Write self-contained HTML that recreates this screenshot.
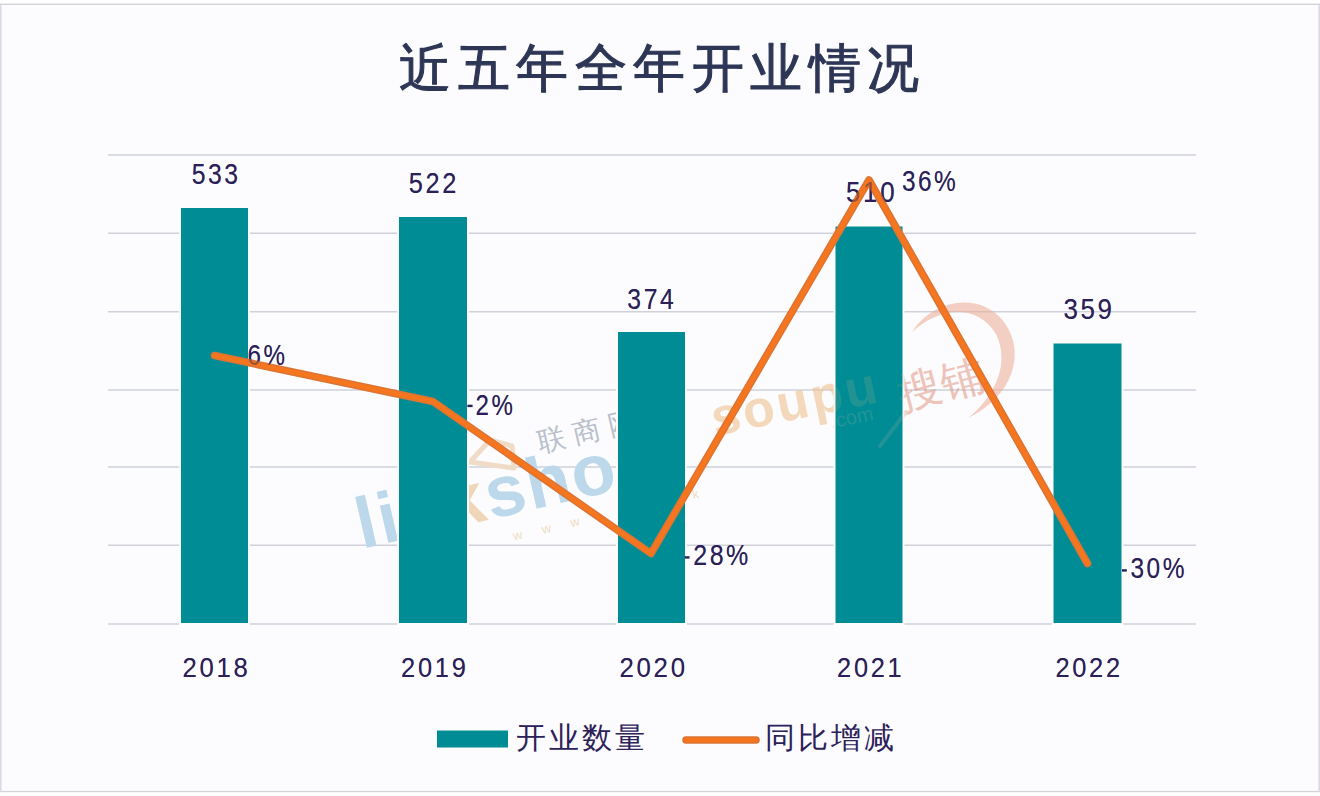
<!DOCTYPE html>
<html><head><meta charset="utf-8">
<style>
html,body{margin:0;padding:0;background:#fff;}
body{width:1320px;height:796px;overflow:hidden;position:relative;font-family:"Liberation Sans",sans-serif;}
svg{position:absolute;left:0;top:0;}
</style></head>
<body>
<svg width="1320" height="796" viewBox="0 0 1320 796">
  <rect x="0" y="0" width="1320" height="796" fill="#ffffff"/>
  <rect x="0" y="4" width="1320" height="788" fill="#fcfcfe"/>
  <rect x="0" y="3.6" width="1320" height="1.3" fill="#cfd0d5"/>
  <rect x="0" y="790.9" width="1320" height="1.3" fill="#d2d4d8"/>
  <rect x="0" y="3.6" width="1.6" height="788.6" fill="#dcd9e4"/>
  <rect x="1318.4" y="3.6" width="1.6" height="788.6" fill="#e0d6e6"/>

  <text x="399.3" y="86" font-family="Liberation Sans, sans-serif" font-size="52" fill="#2e3656" stroke="#2e3656" stroke-width="1.1" stroke-linejoin="round" letter-spacing="6.5">近五年全年开业情况</text>

  <g stroke="#cfd2da" stroke-width="1.5">
    <line x1="108" y1="155" x2="1196" y2="155"/>
    <line x1="108" y1="233.3" x2="1196" y2="233.3"/>
    <line x1="108" y1="311.7" x2="1196" y2="311.7"/>
    <line x1="108" y1="390" x2="1196" y2="390"/>
    <line x1="108" y1="467" x2="1196" y2="467"/>
    <line x1="108" y1="545.3" x2="1196" y2="545.3"/>
    <line x1="108" y1="624" x2="1196" y2="624"/>
  </g>

  <!-- watermark linkshop -->
  <g>
    <g transform="translate(362,549) rotate(-13)">
      <text x="0" y="0" font-family="Liberation Sans, sans-serif" font-size="72" font-weight="bold" fill="#bcd8ea" letter-spacing="2">lin<tspan fill="#f0d6b8">k</tspan>shop</text>
      <text x="150" y="26" font-family="Liberation Sans, sans-serif" font-size="13" fill="#efdcc4" letter-spacing="20">www.link</text>
    </g>
    <g transform="translate(540,452) rotate(-13)">
      <text x="0" y="0" font-family="Liberation Sans, sans-serif" font-size="28" fill="#b9c0cc" letter-spacing="8">联商网</text>
    </g>
    <path d="M470,462 L490,440 L512,446 L514,468 Z" fill="none" stroke="#f0dcc6" stroke-width="5" stroke-linejoin="round"/>
  </g>


  <!-- watermark soupu (under bars) -->
  <g opacity="0.5">
    <g transform="translate(715,436) rotate(-11.6)">
      <text x="0" y="0" font-family="Liberation Sans, sans-serif" font-size="52" font-weight="bold" fill="#efc08c" letter-spacing="3">soupu</text>
      <text x="116" y="16" font-family="Liberation Sans, sans-serif" font-size="20" fill="#efc498">.com</text>
    </g>
    <g transform="translate(902,410) rotate(-15)">
      <text x="0" y="0" font-family="Liberation Sans, sans-serif" font-size="44" fill="#e49a8a">搜铺</text>
    </g>
    <path d="M912,332 C932,300 980,290 1004,322 C1026,352 1014,396 968,418 C996,396 1010,362 996,334 C978,304 940,306 912,332 Z" fill="#eeb09a"/>
    <path d="M906,412 L880,446" stroke="#eeb8a4" stroke-width="4" stroke-linecap="round"/>
  </g>

  <!-- bar outlines -->
  <g fill="#fcfcfe">
    <rect x="179" y="206" width="71" height="419"/>
    <rect x="397" y="215" width="72" height="410"/>
    <rect x="616" y="330" width="71" height="295"/>
    <rect x="833.5" y="224.5" width="71" height="400.5"/>
    <rect x="1051.5" y="341.5" width="72" height="283.5"/>
  </g>
  <g fill="#008c95">
    <rect x="181" y="208" width="67" height="415"/>
    <rect x="399" y="217" width="68" height="406"/>
    <rect x="618" y="332" width="67" height="291"/>
    <rect x="835.5" y="226.5" width="67" height="396.5"/>
    <rect x="1053.5" y="343.5" width="68" height="279.5"/>
  </g>

  <g><rect x="467.4" y="404.7" width="5.2" height="2.4" fill="#2c2158"/><rect x="684.7" y="556.2" width="4.8" height="2.4" fill="#2c2158"/><rect x="1122.0" y="569.2" width="4.8" height="2.4" fill="#2c2158"/></g>

  <!-- watermark soupu (over bars, faint) -->
  <g opacity="0.14">
    <g transform="translate(715,436) rotate(-11.6)">
      <text x="0" y="0" font-family="Liberation Sans, sans-serif" font-size="52" font-weight="bold" fill="#efc08c" letter-spacing="3">soupu</text>
      <text x="116" y="16" font-family="Liberation Sans, sans-serif" font-size="20" fill="#efc498">.com</text>
    </g>
    <g transform="translate(902,410) rotate(-15)">
      <text x="0" y="0" font-family="Liberation Sans, sans-serif" font-size="44" fill="#e49a8a">搜铺</text>
    </g>
    <path d="M912,332 C932,300 980,290 1004,322 C1026,352 1014,396 968,418 C996,396 1010,362 996,334 C978,304 940,306 912,332 Z" fill="#eeb09a"/>
    <path d="M906,412 L880,446" stroke="#eeb8a4" stroke-width="4" stroke-linecap="round"/>
  </g>

  <g font-family="Liberation Sans, sans-serif" font-size="30.5" fill="#2c2158" letter-spacing="3">
        <text transform="translate(191.66,183.90) scale(0.8396,1)" x="0" y="0" font-size="29.5">533</text>
    <text transform="translate(408.84,193.40) scale(0.8604,1)" x="0" y="0" font-size="29.5">522</text>
    <text transform="translate(627.36,308.50) scale(0.8389,1)" x="0" y="0" font-size="29.5">374</text>
    <text transform="translate(846.02,201.80) scale(0.8792,1)" x="0" y="0" font-size="29.5">510</text>
    <text transform="translate(1063.42,318.90) scale(0.8811,1)" x="0" y="0" font-size="29.5">359</text>
    <text transform="translate(247.58,365.00) scale(0.8205,1)" x="0" y="0" font-size="29.5">6%</text>
    <text transform="translate(475.58,414.50) scale(0.8182,1)" x="0" y="0" font-size="29.5">2%</text>
    <text transform="translate(693.15,565.40) scale(0.8492,1)" x="0" y="0" font-size="29.5">28%</text>
    <text transform="translate(901.97,191.00) scale(0.8286,1)" x="0" y="0" font-size="29.5">36%</text>
    <text transform="translate(1130.47,578.30) scale(0.8302,1)" x="0" y="0" font-size="29.5">30%</text>
    <text transform="translate(182.50,676.50) scale(0.9029,1)" x="0" y="0" font-size="28.5">2018</text>
    <text transform="translate(401.11,676.50) scale(0.8943,1)" x="0" y="0" font-size="28.5">2019</text>
    <text transform="translate(619.39,676.50) scale(0.9071,1)" x="0" y="0" font-size="28.5">2020</text>
    <text transform="translate(837.11,676.50) scale(0.8900,1)" x="0" y="0" font-size="28.5">2021</text>
    <text transform="translate(1055.41,676.50) scale(0.8943,1)" x="0" y="0" font-size="28.5">2022</text>
  </g>

  <g fill="none" stroke-linecap="round" stroke-linejoin="round">
    <polyline points="214.5,355.5 433,401.5 651,553.5 869,180 1087.5,563.5" stroke="#dc7433" stroke-width="7.6"/>
    <polyline points="214.5,355.5 433,401.5 651,553.5 869,180 1087.5,563.5" stroke="#f5761f" stroke-width="4.6"/>
  </g>

  <g font-family="Liberation Sans, sans-serif" font-size="30.5" fill="#2c2158" letter-spacing="3" opacity="0.45">
        <text transform="translate(191.66,183.90) scale(0.8396,1)" x="0" y="0" font-size="29.5">533</text>
    <text transform="translate(408.84,193.40) scale(0.8604,1)" x="0" y="0" font-size="29.5">522</text>
    <text transform="translate(627.36,308.50) scale(0.8389,1)" x="0" y="0" font-size="29.5">374</text>
    <text transform="translate(846.02,201.80) scale(0.8792,1)" x="0" y="0" font-size="29.5">510</text>
    <text transform="translate(1063.42,318.90) scale(0.8811,1)" x="0" y="0" font-size="29.5">359</text>
    <text transform="translate(247.58,365.00) scale(0.8205,1)" x="0" y="0" font-size="29.5">6%</text>
    <text transform="translate(475.58,414.50) scale(0.8182,1)" x="0" y="0" font-size="29.5">2%</text>
    <text transform="translate(693.15,565.40) scale(0.8492,1)" x="0" y="0" font-size="29.5">28%</text>
    <text transform="translate(901.97,191.00) scale(0.8286,1)" x="0" y="0" font-size="29.5">36%</text>
    <text transform="translate(1130.47,578.30) scale(0.8302,1)" x="0" y="0" font-size="29.5">30%</text>
    <text transform="translate(182.50,676.50) scale(0.9029,1)" x="0" y="0" font-size="28.5">2018</text>
    <text transform="translate(401.11,676.50) scale(0.8943,1)" x="0" y="0" font-size="28.5">2019</text>
    <text transform="translate(619.39,676.50) scale(0.9071,1)" x="0" y="0" font-size="28.5">2020</text>
    <text transform="translate(837.11,676.50) scale(0.8900,1)" x="0" y="0" font-size="28.5">2021</text>
    <text transform="translate(1055.41,676.50) scale(0.8943,1)" x="0" y="0" font-size="28.5">2022</text>
  </g>

  <rect x="437" y="730.5" width="71" height="17" fill="#008c95"/>
  <text x="516" y="748" font-family="Liberation Sans, sans-serif" font-size="30" fill="#2c2158" letter-spacing="3">开业数量</text>
  <line x1="686" y1="740" x2="756" y2="740" stroke="#dc7433" stroke-width="7.6" stroke-linecap="round"/>
  <line x1="686" y1="740" x2="756" y2="740" stroke="#f5761f" stroke-width="4.5" stroke-linecap="round"/>
  <text x="765" y="748" font-family="Liberation Sans, sans-serif" font-size="30" fill="#2c2158" letter-spacing="3">同比增减</text>
</svg>
</body></html>
